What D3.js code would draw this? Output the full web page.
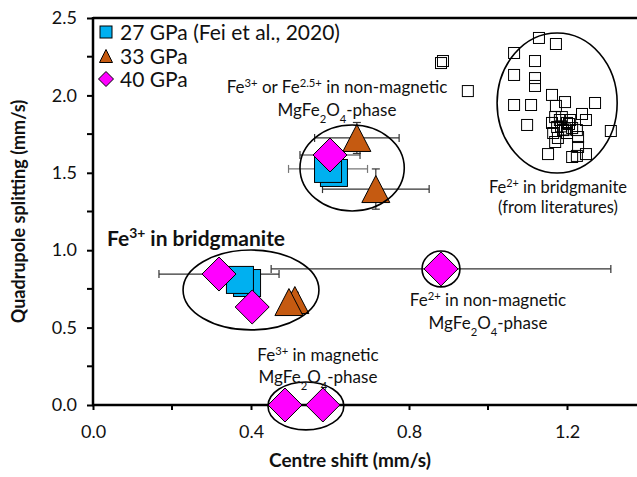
<!DOCTYPE html>
<html>
<head>
<meta charset="utf-8">
<script src="https://cdn.jsdelivr.net/npm/d3@7"></script>
<style>
  html, body { margin: 0; padding: 0; background: #fff; }
  svg { display: block; font-family: Lato, "Open Sans", sans-serif; }
</style>
</head>
<body>
<svg id="chart" width="637" height="477"></svg>
<script>
// ---- data (centre shift, quadrupole splitting, errors in mm/s) ----
const xTickLabels = ["0.0", "0.4", "0.8", "1.2"];
const yTickLabels = ["0.0", "0.5", "1.0", "1.5", "2.0", "2.5"];

const seriesNames = ["27 GPa (Fei et al., 2020)", "33 GPa", "40 GPa"];

// 27 GPa (Fei et al., 2020)
const cs27 = [0.595, 0.610, 0.372, 0.390];
const qs27 = [1.525, 1.499, 0.808, 0.788];
const csErr27 = [0.10, 0.0, 0.0, 0.0];
const qsErr27 = [0.03, 0.05, 0.0, 0.0];

// 33 GPa
const cs33 = [0.668, 0.716, 0.496, 0.511];
const qs33 = [1.725, 1.395, 0.665, 0.678];
const csErr33 = [0.107, 0.135, 0.0, 0.0];
const qsErr33 = [0.10, 0.13, 0.03, 0.05];

// 40 GPa
const cs40 = [0.600, 0.319, 0.403, 0.881, 0.486, 0.582];
const qs40 = [1.615, 0.846, 0.633, 0.879, 0.0, 0.0];
const csErr40 = [0.076, 0.152, 0.0, 0.43, 0.0, 0.0];
const qsErr40 = [0.0, 0.0, 0.0, 0.0, 0.0, 0.0];

// Fe2+ in bridgmanite, literature values
const csLit = [0.881, 0.886, 0.949, 1.066, 1.129, 1.172, 1.119, 1.066, 1.119, 1.119,
               1.162, 1.195, 1.271, 1.066, 1.109, 1.172, 1.238, 1.248, 1.099, 1.170,
               1.182, 1.200, 1.175, 1.190, 1.213, 1.225, 1.165, 1.200, 1.228, 1.177,
               1.208, 1.162, 1.187, 1.170, 1.311, 1.152, 1.213, 1.225, 1.248, 1.228,
               1.185, 1.195, 1.205];
const qsLit = [2.209, 2.222, 2.028, 2.274, 2.371, 2.332, 2.222, 2.132, 2.112, 2.061,
               2.003, 1.957, 1.951, 1.938, 1.938, 1.932, 1.880, 1.841, 1.809, 1.860,
               1.841, 1.822, 1.796, 1.776, 1.789, 1.776, 1.757, 1.757, 1.731, 1.725,
               1.841, 1.822, 1.860, 1.699, 1.770, 1.621, 1.602, 1.609, 1.621, 1.667,
               1.800, 1.780, 1.815];

// grouping outlines: centre (cs, qs) and half-widths in axis units
const groupCs = [0.656, 0.400, 1.175, 0.539, 0.881];
const groupQs = [1.531, 0.743, 1.951, -0.006, 0.879];
const groupRx = [0.132, 0.172, 0.152, 0.096, 0.048];
const groupRy = [0.278, 0.258, 0.452, 0.155, 0.116];

// ---- layout ----
const svg = d3.select("#chart");
const x = d3.scaleLinear().domain([0, 1.2]).range([93, 567]);
const y = d3.scaleLinear().domain([0, 2.5]).range([405, 18]);
const xEnd = 637;

const C27 = "#00B0F0", C33 = "#C55A11", C40 = "#FF00FF";

// top frame line
svg.append("line").attr("x1", x(0)).attr("x2", xEnd).attr("y1", y(2.5)).attr("y2", y(2.5))
  .attr("stroke", "#000").attr("stroke-width", 2.5);

// axes
const xAxis = d3.axisBottom(x)
  .tickValues(d3.range(0, 1.21, 0.4))
  .tickFormat((d, i) => xTickLabels[i])
  .tickSize(5).tickPadding(15);
const gx = svg.append("g").attr("transform", `translate(0,${y(0)})`).call(xAxis);
gx.select(".domain").remove();
gx.append("line").attr("x1", x(0) - 1).attr("x2", xEnd).attr("stroke", "#000").attr("stroke-width", 2.5);
gx.selectAll(".tick line").attr("stroke-width", 2);
gx.selectAll(".tick text").attr("font-size", 18).attr("fill", "#111")
  .style("font-family", "Lato, sans-serif");
// minor x ticks
gx.selectAll(".minor").data([0.2, 0.6, 1.0]).enter().append("line")
  .attr("x1", d => x(d)).attr("x2", d => x(d)).attr("y1", 0).attr("y2", 5)
  .attr("stroke", "#000").attr("stroke-width", 2);

const yAxis = d3.axisLeft(y)
  .tickValues(d3.range(0, 2.51, 0.5))
  .tickFormat((d, i) => yTickLabels[i])
  .tickSize(6).tickPadding(10);
const gy = svg.append("g").attr("transform", `translate(${x(0)},0)`).call(yAxis);
gy.select(".domain").remove();
gy.append("line").attr("y1", y(2.5) - 1).attr("y2", y(0) + 1).attr("stroke", "#000").attr("stroke-width", 2.5);
gy.selectAll(".tick line").attr("stroke-width", 2);
gy.selectAll(".tick text").attr("font-size", 18).attr("fill", "#111")
  .style("font-family", "Lato, sans-serif");
gy.selectAll(".minor").data([0.25, 0.75, 1.25, 1.75, 2.25]).enter().append("line")
  .attr("x1", -6).attr("x2", 0).attr("y1", d => y(d)).attr("y2", d => y(d))
  .attr("stroke", "#000").attr("stroke-width", 2);

// axis titles
svg.append("text").attr("x", 350).attr("y", 467).attr("text-anchor", "middle")
  .attr("font-size", 19).attr("font-weight", "bold").attr("fill", "#111")
  .text("Centre shift (mm/s)");
svg.append("text").attr("transform", `translate(25,${(y(0) + y(2.5)) / 2}) rotate(-90)`)
  .attr("text-anchor", "middle").attr("font-size", 18).attr("font-weight", "bold").attr("fill", "#111")
  .text("Quadrupole splitting (mm/s)");

// ---- marker symbols ----
function square(g, cx, cy, s, fill) {
  g.append("rect").attr("x", cx - s / 2).attr("y", cy - s / 2).attr("width", s).attr("height", s)
    .attr("fill", fill).attr("stroke", "#000").attr("stroke-width", 1);
}
function triangle(g, cx, cy, w, h, fill) {
  g.append("path")
    .attr("d", `M${cx},${cy - h / 2} L${cx + w / 2},${cy + h / 2} L${cx - w / 2},${cy + h / 2} Z`)
    .attr("fill", fill).attr("stroke", "#000").attr("stroke-width", 1);
}
function diamond(g, cx, cy, r, fill) {
  g.append("path")
    .attr("d", `M${cx},${cy - r} L${cx + r},${cy} L${cx},${cy + r} L${cx - r},${cy} Z`)
    .attr("fill", fill).attr("stroke", "#000").attr("stroke-width", 1);
}

// error bars
function errorBars(g, cs, qs, csErr, qsErr, color) {
  const cap = 4;
  cs.forEach((c, i) => {
    const px = x(c), py = y(qs[i]);
    if (csErr[i] > 0) {
      const a = x(c - csErr[i]), b = x(c + csErr[i]);
      g.append("line").attr("x1", a).attr("x2", b).attr("y1", py).attr("y2", py)
        .attr("stroke", color).attr("stroke-width", 1.2);
      [a, b].forEach(v => g.append("line").attr("x1", v).attr("x2", v)
        .attr("y1", py - cap).attr("y2", py + cap).attr("stroke", color).attr("stroke-width", 1.2));
    }
    if (qsErr[i] > 0) {
      const a = y(qs[i] - qsErr[i]), b = y(qs[i] + qsErr[i]);
      g.append("line").attr("x1", px).attr("x2", px).attr("y1", a).attr("y2", b)
        .attr("stroke", color).attr("stroke-width", 1.2);
      [a, b].forEach(v => g.append("line").attr("y1", v).attr("y2", v)
        .attr("x1", px - cap).attr("x2", px + cap).attr("stroke", color).attr("stroke-width", 1.2));
    }
  });
}

// literature points (open squares)
const gLit = svg.append("g");
csLit.forEach((c, i) => square(gLit, x(c), y(qsLit[i]), 11, "none"));

// measured series
const gErr = svg.append("g");
errorBars(gErr, cs27, qs27, csErr27, qsErr27, "#777");
errorBars(gErr, cs33, qs33, csErr33, qsErr33, "#333");
errorBars(gErr, cs40, qs40, csErr40, qsErr40, "#333");

const g27 = svg.append("g");
// draw back-to-front so the first point of each pair sits on top
[1, 0, 3, 2].forEach(i => square(g27, x(cs27[i]), y(qs27[i]), 27, C27));
const g33 = svg.append("g");
[1, 0, 3, 2].forEach(i => triangle(g33, x(cs33[i]), y(qs33[i]), 28, 27, C33));
const g40 = svg.append("g");
cs40.forEach((c, i) => diamond(g40, x(c), y(qs40[i]), 17, C40));

// grouping outlines
const gGroup = svg.append("g");
groupCs.forEach((c, i) => {
  gGroup.append("ellipse")
    .attr("cx", x(c)).attr("cy", y(groupQs[i]))
    .attr("rx", x(c + groupRx[i]) - x(c)).attr("ry", y(groupQs[i]) - y(groupQs[i] + groupRy[i]))
    .attr("fill", "none").attr("stroke", "#000").attr("stroke-width", 1.6);
});

// ---- annotations ----
function label(lines, cx, y0, lh, size, weight, anchor) {
  lines.forEach((parts, k) => {
    const t = svg.append("text").attr("x", cx).attr("y", y0 + k * lh)
      .attr("text-anchor", anchor || "middle").attr("font-size", size)
      .attr("font-weight", weight || "normal").attr("fill", "#111");
    parts.forEach(p => {
      const s = t.append("tspan").text(p[0]);
      if (p[1] === "sup") s.attr("baseline-shift", "super").attr("font-size", size * 0.66);
      if (p[1] === "sub") s.attr("baseline-shift", "sub").attr("font-size", size * 0.66);
    });
  });
}
const phase = [["MgFe"], ["2", "sub"], ["O"], ["4", "sub"], ["-phase"]];

label([[["Fe"], ["3+", "sup"], [" or Fe"], ["2.5+", "sup"], [" in non-magnetic"]], phase], 337, 93, 23, 17);
label([[["Fe"], ["3+", "sup"], [" in bridgmanite"]]], 107, 246, 22, 21, "bold", "start");
label([[["Fe"], ["2+", "sup"], [" in non-magnetic"]], phase], 488, 306, 23, 17);
label([[["Fe"], ["3+", "sup"], [" in magnetic"]], phase], 318, 361, 22, 17);
label([[["Fe"], ["2+", "sup"], [" in bridgmanite"]], [["(from literatures)"]]], 558, 193, 20, 16.5);

// ---- legend ----
const gLeg = svg.append("g");
square(gLeg, 106, 32, 12, C27);
triangle(gLeg, 106, 56, 13, 13, C33);
diamond(gLeg, 106, 79, 7.5, C40);
seriesNames.forEach((n, i) => {
  gLeg.append("text").attr("x", 120).attr("y", 40 + i * 23.5).attr("font-size", 21)
    .attr("fill", "#111").text(n);
});
</script>
</body>
</html>
